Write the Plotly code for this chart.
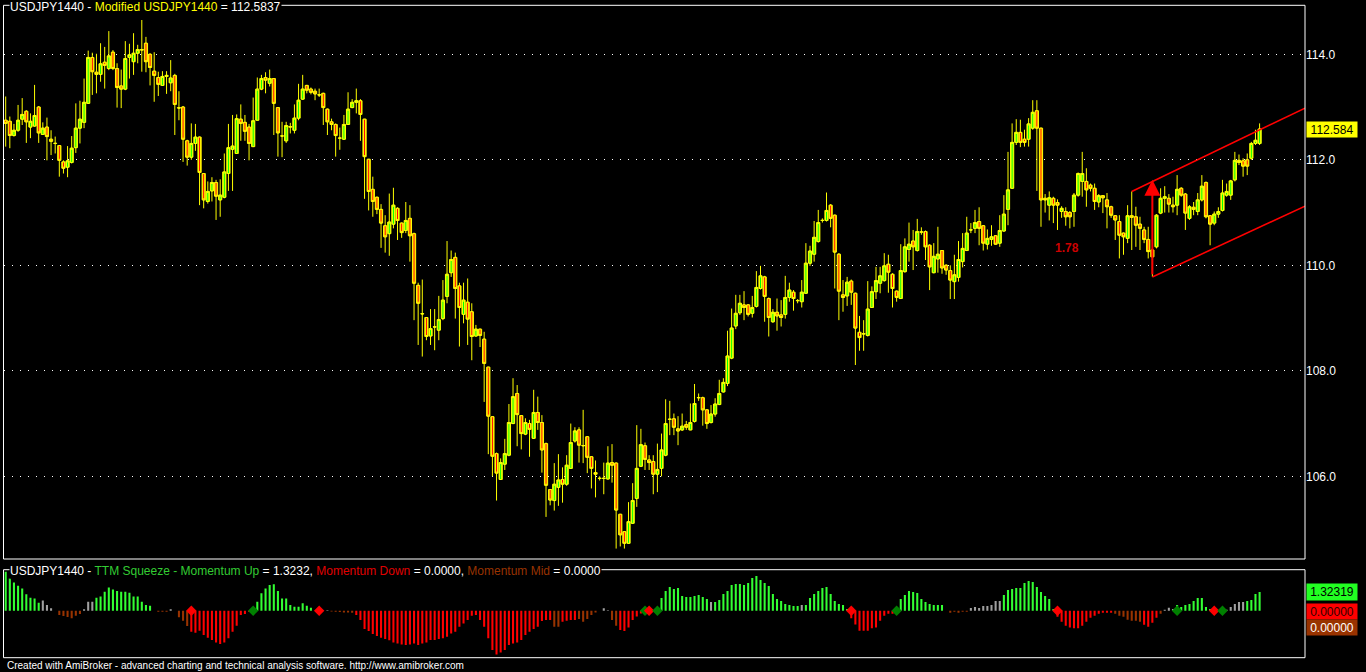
import plotly.graph_objects as go

W, H = 1366, 672
FONT = "Liberation Sans, Arial, sans-serif"

# ---------------- data ----------------
OPEN = [112.75, 112.73, 112.46, 112.56, 112.77, 112.92, 112.62, 112.64, 113.00, 112.48,
        112.62, 112.39, 112.31, 112.27, 111.96, 111.86, 111.95, 112.23, 112.60, 112.71,
        113.07, 113.94, 113.66, 113.62, 113.85, 113.73, 114.04, 113.73, 113.40, 113.34,
        113.94, 113.86, 114.02, 114.08, 114.21, 114.00, 113.68, 113.56, 113.41, 113.58,
        113.46, 113.60, 112.99, 113.00, 112.36, 112.05, 112.31, 112.43, 111.74, 111.21,
        111.41, 111.57, 111.24, 111.29, 111.74, 112.20, 112.12, 112.77, 112.71, 112.62,
        112.25, 112.75, 113.34, 113.56, 113.45, 113.54, 112.99, 112.45, 112.36, 112.62,
        112.56, 112.79, 113.15, 113.41, 113.34, 113.30, 113.23, 113.26, 112.96, 112.72,
        112.67, 112.41, 112.39, 112.67, 112.99, 113.09, 113.12, 112.77, 112.01, 111.44,
        111.29, 111.06, 110.75, 110.60, 110.78, 111.08, 110.80, 110.66, 110.89, 110.60,
        109.62, 109.08, 109.01, 108.66, 108.83, 108.77, 108.99, 109.41, 109.86, 110.15,
        109.61, 109.07, 109.30, 109.12, 108.66, 108.79, 108.60, 108.07, 107.13, 106.43,
        105.94, 106.23, 106.40, 107.00, 107.57, 107.15, 106.80, 107.00, 106.72, 107.21,
        107.02, 106.62, 105.75, 105.54, 105.79, 105.94, 105.85, 106.15, 106.67, 106.88,
        106.58, 106.75, 106.37, 106.07, 105.96, 105.96, 105.95, 106.26, 106.25, 105.28,
        104.95, 104.73, 105.11, 105.58, 106.19, 106.58, 106.31, 106.28, 106.04, 106.15,
        106.40, 107.08, 107.09, 106.90, 106.88, 106.98, 106.88, 107.04, 107.49, 107.49,
        107.26, 107.02, 107.18, 107.36, 107.60, 107.76, 108.24, 108.85, 109.10, 109.25,
        109.25, 109.09, 109.22, 109.56, 109.78, 109.37, 108.93, 109.11, 109.06, 109.07,
        109.39, 109.49, 109.33, 109.31, 109.47, 110.04, 110.21, 110.45, 110.85, 110.85,
        111.14, 110.95, 110.21, 109.44, 109.42, 109.70, 109.47, 108.73, 108.70, 108.67,
        109.20, 109.50, 109.66, 109.71, 110.02, 109.83, 109.51, 109.37, 109.88, 110.30,
        110.46, 110.28, 110.63, 110.64, 110.38, 109.86, 110.12, 110.28, 110.00, 109.90,
        109.69, 109.77, 110.07, 110.28, 110.67, 110.70, 110.83, 110.75, 110.40, 110.49,
        110.56, 110.42, 110.65, 111.06, 111.46, 112.33, 112.52, 112.39, 112.39, 112.60,
        112.93, 112.60, 111.27, 111.14, 111.27, 111.19, 111.02, 111.02, 111.00, 111.02,
        111.33, 111.59, 111.59, 111.52, 111.46, 111.20, 111.32, 111.24, 111.11, 110.94,
        110.83, 110.61, 110.51, 110.94, 110.92, 110.78, 110.67, 110.49, 110.29, 110.35,
        110.99, 111.27, 111.27, 111.14, 111.14, 111.46, 111.35, 110.89, 111.10, 111.02,
        111.24, 111.57, 110.94, 110.80, 110.97, 111.04, 111.33, 111.33, 111.62, 111.99,
        111.98, 112.00, 112.03, 112.31, 112.31]

HIGH = [113.20, 112.82, 112.68, 113.04, 113.17, 112.94, 112.88, 113.42, 113.02, 112.71,
        112.80, 112.56, 112.44, 112.28, 111.99, 112.26, 112.45, 113.07, 113.12, 113.54,
        114.07, 114.03, 114.01, 114.21, 114.14, 114.44, 114.08, 113.83, 113.71, 114.25,
        114.20, 114.40, 114.18, 114.65, 114.33, 114.02, 114.04, 113.67, 113.68, 113.68,
        113.89, 113.63, 113.30, 113.02, 112.38, 112.69, 112.68, 112.44, 111.74, 111.59,
        111.67, 111.62, 111.63, 112.12, 112.68, 112.85, 112.86, 113.05, 112.85, 112.68,
        113.18, 113.56, 113.61, 113.66, 113.71, 113.54, 113.00, 112.72, 112.72, 112.70,
        113.05, 113.44, 113.61, 113.42, 113.37, 113.35, 113.35, 113.27, 112.97, 112.78,
        112.69, 112.61, 112.85, 113.28, 113.15, 113.35, 113.15, 112.77, 112.01, 111.68,
        111.30, 111.16, 110.95, 111.36, 111.47, 111.10, 110.81, 111.20, 111.14, 110.62,
        109.67, 109.73, 109.02, 109.17, 109.17, 109.42, 109.72, 110.46, 110.28, 110.24,
        109.67, 109.67, 109.75, 109.28, 108.87, 108.79, 108.74, 108.07, 107.13, 106.45,
        106.34, 106.71, 107.37, 107.86, 107.73, 107.16, 107.10, 107.07, 107.64, 107.51,
        107.16, 106.64, 105.75, 106.25, 106.42, 106.17, 106.40, 107.00, 106.93, 106.93,
        107.26, 106.76, 106.38, 106.30, 106.00, 106.26, 106.57, 106.61, 106.26, 105.28,
        104.96, 105.51, 105.87, 106.97, 106.90, 106.64, 106.40, 106.40, 106.62, 106.81,
        107.46, 107.43, 107.19, 107.14, 107.19, 107.05, 107.38, 107.75, 107.57, 107.51,
        107.27, 107.35, 107.48, 107.83, 107.86, 108.76, 109.18, 109.44, 109.44, 109.51,
        109.26, 109.42, 109.89, 109.99, 109.80, 109.39, 109.17, 109.37, 109.34, 109.80,
        109.67, 109.53, 109.36, 109.72, 110.42, 110.37, 110.84, 111.05, 110.89, 111.38,
        111.16, 110.96, 110.23, 109.72, 109.78, 109.73, 109.48, 109.04, 108.96, 109.70,
        109.60, 109.97, 109.97, 110.23, 110.20, 109.85, 109.52, 110.40, 110.51, 110.81,
        110.67, 110.88, 110.72, 110.66, 110.40, 110.42, 110.73, 110.29, 110.02, 110.00,
        110.20, 110.46, 110.61, 110.92, 110.80, 111.05, 111.10, 110.76, 110.68, 110.76,
        110.57, 110.95, 111.33, 112.15, 112.69, 112.77, 112.76, 112.57, 112.79, 113.13,
        113.13, 112.60, 111.35, 111.40, 111.30, 111.25, 111.12, 111.10, 111.03, 111.37,
        111.76, 112.15, 111.84, 111.55, 111.55, 111.35, 111.33, 111.37, 111.13, 110.95,
        110.95, 110.62, 111.14, 111.40, 111.11, 110.92, 110.73, 110.73, 110.32, 110.97,
        111.46, 111.50, 111.35, 111.30, 111.71, 111.48, 111.37, 111.14, 111.20, 111.37,
        111.71, 111.59, 110.95, 111.02, 111.10, 111.62, 111.55, 111.62, 112.15, 112.10,
        112.03, 112.12, 112.34, 112.57, 112.69]

LOW = [112.25, 112.22, 112.44, 112.53, 112.66, 112.32, 112.41, 112.63, 112.32, 112.47,
       111.99, 112.09, 112.12, 111.68, 111.74, 111.67, 111.93, 112.13, 112.31, 112.60,
       113.06, 113.23, 113.26, 113.48, 113.35, 113.70, 113.70, 112.99, 112.98, 113.32,
       113.54, 113.61, 113.83, 113.67, 113.66, 113.41, 113.10, 113.21, 113.40, 113.25,
       113.30, 112.47, 112.75, 111.96, 111.89, 112.00, 112.17, 111.14, 111.08, 111.17,
       111.21, 110.86, 110.92, 111.27, 111.41, 111.41, 112.11, 112.36, 112.36, 111.99,
       112.25, 112.75, 113.32, 113.26, 113.39, 112.47, 112.06, 112.05, 112.32, 112.50,
       112.50, 112.75, 113.14, 113.26, 113.24, 113.13, 113.19, 112.66, 112.47, 112.56,
       112.06, 112.19, 112.38, 112.66, 112.98, 112.88, 112.36, 111.26, 111.04, 110.92,
       110.97, 110.33, 110.24, 110.18, 110.70, 110.48, 110.52, 110.61, 110.07, 108.96,
       108.49, 108.27, 108.58, 108.49, 108.39, 108.58, 108.96, 109.28, 109.78, 108.99,
       108.46, 108.90, 108.49, 108.20, 108.65, 108.45, 107.41, 106.42, 106.00, 105.54,
       105.93, 106.12, 106.38, 106.99, 106.57, 106.51, 106.78, 106.37, 106.71, 106.88,
       106.07, 105.23, 105.45, 105.35, 105.44, 105.50, 105.82, 106.14, 106.64, 106.26,
       106.25, 106.06, 105.77, 105.60, 105.92, 105.66, 105.94, 105.88, 104.63, 104.67,
       104.63, 104.73, 105.10, 105.42, 106.18, 106.12, 106.12, 105.66, 105.70, 106.00,
       106.38, 106.78, 106.78, 106.59, 106.86, 106.88, 106.88, 107.02, 107.43, 106.96,
       106.90, 107.00, 107.13, 107.35, 107.59, 107.71, 108.22, 108.79, 109.06, 108.96,
       109.03, 109.01, 109.20, 109.54, 108.93, 108.65, 108.91, 108.76, 108.84, 108.99,
       109.31, 109.14, 109.28, 109.20, 109.46, 109.99, 110.07, 110.43, 110.81, 110.83,
       110.72, 109.56, 108.96, 109.12, 109.23, 109.25, 108.11, 108.38, 108.38, 108.65,
       109.20, 109.36, 109.47, 109.69, 109.48, 109.20, 109.31, 109.36, 109.86, 110.07,
       109.91, 110.26, 110.58, 110.10, 109.53, 109.85, 109.86, 109.84, 109.82, 109.36,
       109.36, 109.69, 109.96, 110.27, 110.61, 110.61, 110.38, 110.28, 110.30, 110.37,
       110.39, 110.35, 110.64, 110.76, 111.45, 112.28, 112.24, 112.25, 112.25, 112.57,
       111.41, 110.73, 111.00, 110.85, 110.80, 110.67, 110.90, 110.75, 110.70, 110.73,
       111.30, 111.30, 111.11, 111.40, 111.05, 111.10, 110.99, 110.70, 110.90, 110.48,
       110.13, 110.20, 110.42, 110.29, 110.35, 110.29, 110.42, 110.13, 109.78, 110.32,
       110.97, 111.00, 111.00, 111.00, 110.95, 111.30, 110.67, 110.86, 110.95, 110.95,
       111.21, 110.89, 110.38, 110.76, 110.90, 111.02, 111.30, 111.24, 111.59, 111.90,
       111.68, 111.71, 112.00, 112.28, 112.28]

CLOSE = [112.69, 112.46, 112.56, 112.75, 112.86, 112.72, 112.73, 112.84, 112.51, 112.60,
         112.44, 112.35, 112.31, 111.99, 111.84, 111.98, 112.22, 112.60, 112.77, 113.09,
         113.94, 113.67, 113.62, 113.82, 113.79, 113.97, 113.73, 113.37, 113.34, 113.92,
         113.99, 114.02, 114.09, 114.09, 113.86, 113.75, 113.60, 113.43, 113.58, 113.60,
         113.55, 113.05, 112.98, 112.39, 112.05, 112.31, 112.43, 111.76, 111.24, 111.40,
         111.57, 111.31, 111.33, 111.77, 112.23, 112.26, 112.78, 112.69, 112.54, 112.31,
         112.74, 113.34, 113.54, 113.51, 113.54, 113.07, 112.51, 112.45, 112.65, 112.63,
         112.79, 113.13, 113.34, 113.32, 113.28, 113.25, 113.23, 112.99, 112.72, 112.67,
         112.46, 112.41, 112.67, 112.96, 113.09, 113.12, 112.86, 112.06, 111.40, 111.21,
         111.06, 110.80, 110.54, 110.82, 111.14, 110.85, 110.62, 110.85, 110.56, 109.66,
         109.28, 109.08, 108.65, 108.80, 108.83, 108.97, 109.34, 109.83, 110.11, 109.56,
         109.20, 109.34, 108.98, 108.65, 108.79, 108.67, 108.14, 107.14, 106.38, 106.06,
         106.26, 106.43, 107.02, 107.51, 107.17, 106.81, 107.02, 106.89, 107.21, 107.02,
         106.50, 105.83, 105.55, 105.85, 105.93, 105.85, 106.21, 106.64, 106.86, 106.59,
         106.58, 106.36, 106.15, 106.04, 105.96, 105.96, 106.25, 106.21, 105.36, 104.89,
         104.73, 105.14, 105.54, 106.15, 106.60, 106.32, 106.26, 106.04, 106.13, 106.50,
         107.00, 107.08, 106.93, 106.86, 106.95, 106.93, 107.02, 107.38, 107.49, 107.26,
         107.00, 107.18, 107.37, 107.57, 107.78, 108.28, 108.81, 109.09, 109.28, 109.20,
         109.07, 109.20, 109.58, 109.80, 109.41, 109.01, 109.11, 109.04, 109.01, 109.39,
         109.53, 109.37, 109.33, 109.49, 110.04, 110.27, 110.53, 110.81, 110.85, 111.04,
         110.89, 110.25, 109.51, 109.39, 109.68, 109.49, 108.81, 108.63, 108.70, 109.17,
         109.50, 109.71, 109.80, 109.99, 109.87, 109.56, 109.39, 109.90, 110.35, 110.40,
         110.35, 110.64, 110.63, 110.35, 109.97, 110.17, 110.21, 109.95, 109.91, 109.72,
         109.82, 110.11, 110.32, 110.61, 110.67, 110.81, 110.70, 110.42, 110.51, 110.54,
         110.40, 110.66, 110.97, 111.43, 112.33, 112.52, 112.33, 112.33, 112.68, 112.90,
         112.60, 111.24, 111.24, 111.28, 111.14, 111.14, 111.08, 110.92, 110.92, 111.33,
         111.74, 111.74, 111.43, 111.46, 111.21, 111.32, 111.28, 111.11, 110.95, 110.86,
         110.57, 110.54, 110.94, 110.91, 110.76, 110.70, 110.49, 110.26, 110.16, 110.95,
         111.27, 111.30, 111.16, 111.11, 111.44, 111.33, 110.99, 111.11, 111.06, 111.24,
         111.50, 110.92, 110.78, 110.97, 111.02, 111.37, 111.40, 111.60, 111.99, 111.95,
         111.88, 111.88, 112.31, 112.37, 112.5837]

# TTM squeeze momentum histogram
MOM = [2.77, 2.29, 2.00, 1.77, 1.58, 1.16, 0.92, 0.87, 0.57,
       0.73, 0.40, 0.17, 0.00,
       -0.30, -0.38, -0.45, -0.54, -0.35, -0.24,
       0.10, 0.64, 0.64,
       0.92, 1.00, 1.35, 1.65, 1.51, 1.39, 1.35, 1.35, 1.28, 1.00, 1.00, 0.64, 0.40, 0.35,
       0.00, -0.08, -0.08, -0.08,
       0.10,
       0.00, -0.47, -0.71, -1.09,
       -1.49, -1.56, -1.42, -1.73, -1.91, -2.08, -2.25, -2.36, -2.25, -1.96, -1.49, -1.06, -0.31, -0.24, -0.07,
       0.00, 0.64, 1.23, 1.58, 1.82, 1.87, 1.39, 0.87, 0.87, 0.40, 0.28, 0.28, 0.52, 0.35, 0.21, 0.00,
       0.00,
       0.00,
       0.03,
       -0.05, -0.08, -0.10, -0.12, -0.12, -0.15,
       -0.31, -0.66, -1.30, -1.44, -1.65, -1.80, -1.91, -2.00, -2.10, -2.25, -2.32, -2.39,
       -2.43, -2.39, -2.32, -2.43, -2.32, -2.25, -2.08, -2.08, -2.00, -1.96, -1.84, -1.61,
       -1.49, -1.13, -0.90, -0.66, -0.35, -0.31, -0.66, -1.13, -1.96, -2.79, -3.10, -2.96,
       -2.79, -2.43, -2.32, -2.25, -2.08, -1.73, -1.49, -1.30, -1.13, -0.73, -0.66, -0.66,
       -1.13, -1.13,
       -0.78, -0.71, -0.66, -0.66,
       -0.59, -0.78, -0.59, -0.31, -0.12,
       0.00, 0.17, 0.03,
       -0.66, -1.06,
       -1.37, -1.44, -1.20, -0.66, -0.42, -0.19,
       0.00,
       0.00,
       0.00, 0.00, 0.90, 1.39, 1.68, 1.54, 1.61, 1.04, 0.97, 0.97, 1.04, 1.11, 0.97, 0.83,
       0.61,
       0.61, 0.76, 1.18, 1.39, 1.82, 1.89, 1.89, 1.82, 1.96, 2.32, 2.46, 2.17, 1.96, 1.75,
       1.18, 0.83, 0.69, 0.47, 0.40, 0.33, 0.33,
       0.40,
       0.40, 0.90, 1.18, 1.39, 1.61, 1.68, 1.18, 0.69, 0.47, 0.40, 0.12,
       -0.54, -0.97, -1.42, -1.42, -1.42, -1.25, -1.20, -0.71, -0.35, -0.21, -0.21,
       0.00, 0.83, 1.11, 1.39, 1.32, 1.25, 0.83, 0.61, 0.47, 0.40, 0.40, 0.40,
       0.00, -0.14, -0.07, -0.14, -0.07, -0.07,
       0.19, 0.26, 0.19, 0.33, 0.33, 0.40, 0.69, 0.69,
       1.11, 1.47, 1.54, 1.61, 1.61, 1.96, 2.10, 2.03, 1.68, 1.32, 1.04, 0.83, 0.12,
       -0.43, -0.78, -1.06, -1.20, -1.25, -1.25, -1.06, -0.78, -0.50, -0.35, -0.21, -0.14, -0.14, -0.14,
       -0.21, -0.35, -0.43, -0.64, -0.71, -0.71, -0.78,
       -0.99, -1.13, -0.85, -0.50,
       -0.21,
       0.07, 0.21, 0.12,
       0.40, 0.26, 0.40, 0.47, 0.69, 0.90, 0.90, 0.26, 0.12,
       0.00,
       0.05, 0.00,
       0.07, 0.26, 0.47, 0.61, 0.61,
       0.69, 0.76, 1.18, 1.32319]

# per-bar state: g = up (green), a = grey, r = down (red), b = mid (brown)
MOM_STATE = ("g" * 9 + "a" * 4 + "b" * 6 + "a" * 3 + "g" * 14 + "b" * 4 + "a" + "b" * 4
             + "r" * 15 + "g" * 16 + "r" + "b" + "a" + "b" * 6 + "r" * 48 + "b" * 2 + "r" * 4
             + "b" * 5 + "a" * 3 + "b" * 2 + "r" * 6 + "g" + "r" + "g" * 14 + "a" + "g" * 21
             + "a" + "g" * 11 + "r" * 11 + "g" * 12 + "b" * 6 + "a" * 8 + "g" * 13 + "r" * 14
             + "b" * 7 + "r" * 4 + "b" + "a" * 3 + "g" * 9 + "r" + "g" * 2 + "a" * 5 + "g" * 4)

# squeeze dots on the zero line
DOT_IDX = [45, 60, 76, 155, 156, 158, 205, 216, 255, 284, 293, 295]
DOT_KIND = ["R", "G", "R", "G", "R", "G", "R", "G", "R", "G", "R", "G"]

MOM_DOWN_LAST = 0.0
MOM_MID_LAST = 0.0

PRICE_TICKS = [106, 108, 110, 112, 114]

# drawn channel and signal arrow (bar index, price)
CHANNEL_UPPER_X = [273, 315]
CHANNEL_UPPER_Y = [111.40, 112.98]
CHANNEL_LOWER_X = [278, 315]
CHANNEL_LOWER_Y = [109.78, 111.12]
SIGNAL_BAR = 278
SIGNAL_FROM = 109.80
SIGNAL_TO = 111.62
SIGNAL_TEXT = "1.78"
SIGNAL_TEXT_X = 257.3
SIGNAL_TEXT_Y = 110.32

# ---------------- layout geometry (pixels) ----------------
PANE_L, PANE_R = 3.5, 1305.0
UP_TOP, UP_BOT = 5.3, 559.0
LO_TOP, LO_BOT = 569.7, 657.7
X_FIRST_PX, X_LAST_PX = 5.7, 1259.6
P_REF, P_REF_PX, P_PX_PER_UNIT = 114.0, 54.3, 52.75
M_ZERO_PX, M_PX_PER_UNIT = 610.7, 14.1


def fx(p):
    return p / W


def fy(p):
    return 1 - p / H


n = len(CLOSE)
idx = list(range(n))
step = (X_LAST_PX - X_FIRST_PX) / (n - 1)
x_range = [(PANE_L - X_FIRST_PX) / step, (n - 1) + (PANE_R - X_LAST_PX) / step]
y_range = [P_REF - (UP_BOT - P_REF_PX) / P_PX_PER_UNIT, P_REF + (P_REF_PX - UP_TOP) / P_PX_PER_UNIT]
m_range = [-(LO_BOT - M_ZERO_PX) / M_PX_PER_UNIT, (M_ZERO_PX - LO_TOP) / M_PX_PER_UNIT]
min_body = 1.0 / P_PX_PER_UNIT * 0.2   # keeps doji bodies visible as a flat line

STATE_COLORS = {"g": "#33FF33", "a": "#A0A0A0", "r": "#FF0000", "b": "#993300"}
DOT_COLORS = {"R": "#FF0000", "G": "#008000"}

body_base = [min(o, c) for o, c in zip(OPEN, CLOSE)]
body_len = [max(abs(c - o), min_body) for o, c in zip(OPEN, CLOSE)]
body_col = ["#00FF00" if c >= o else "#FF0000" for o, c in zip(OPEN, CLOSE)]

fig = go.Figure()

# wicks (thin candlestick trace) + bodies drawn on top as bars
fig.add_trace(go.Candlestick(
    x=idx, open=OPEN, high=HIGH, low=LOW, close=CLOSE,
    increasing=dict(line=dict(color="#FFFF00", width=1), fillcolor="#00FF00"),
    decreasing=dict(line=dict(color="#FFFF00", width=1), fillcolor="#FF0000"),
    whiskerwidth=0, xaxis="x", yaxis="y", hoverinfo="skip", showlegend=False))

fig.add_trace(go.Bar(x=idx, y=body_len, base=body_base, width=0.78,
                     marker=dict(color=body_col, line=dict(color="#FFFF00", width=1)),
                     xaxis="x", yaxis="y", hoverinfo="skip", showlegend=False))

fig.add_trace(go.Scatter(x=CHANNEL_UPPER_X, y=CHANNEL_UPPER_Y, mode="lines",
                         line=dict(color="#FF0000", width=1.6), xaxis="x", yaxis="y",
                         hoverinfo="skip", showlegend=False))
fig.add_trace(go.Scatter(x=CHANNEL_LOWER_X, y=CHANNEL_LOWER_Y, mode="lines",
                         line=dict(color="#FF0000", width=1.6), xaxis="x", yaxis="y",
                         hoverinfo="skip", showlegend=False))

fig.add_trace(go.Bar(x=list(range(len(MOM))), y=MOM,
                     marker=dict(color=[STATE_COLORS[s] for s in MOM_STATE[:len(MOM)]], line=dict(width=0)),
                     width=0.5, xaxis="x2", yaxis="y2", hoverinfo="skip", showlegend=False))

fig.add_trace(go.Scatter(x=DOT_IDX, y=[0] * len(DOT_IDX), mode="markers",
                         marker=dict(symbol="diamond", size=8,
                                     color=[DOT_COLORS[k] for k in DOT_KIND], line=dict(width=0)),
                         xaxis="x2", yaxis="y2", hoverinfo="skip", showlegend=False))

axis_common = dict(showgrid=False, zeroline=False, showline=False, ticks="", fixedrange=True)

fig.update_layout(
    width=W, height=H,
    margin=dict(l=0, r=0, t=0, b=0),
    paper_bgcolor="black", plot_bgcolor="black",
    hovermode=False, showlegend=False, barmode="overlay",
    xaxis=dict(domain=[fx(PANE_L), fx(PANE_R)], range=x_range, anchor="y",
               showticklabels=False, rangeslider=dict(visible=False), **axis_common),
    yaxis=dict(domain=[fy(UP_BOT), fy(UP_TOP)], range=y_range, anchor="x", side="right",
               tickvals=PRICE_TICKS, ticktext=[f"{v:.1f}" for v in PRICE_TICKS],
               tickfont=dict(color="white", size=12, family=FONT),
               showgrid=True, gridcolor="white", gridwidth=1, griddash="1px,7px",
               zeroline=False, showline=False, ticks="", fixedrange=True),
    xaxis2=dict(domain=[fx(PANE_L), fx(PANE_R)], range=x_range, anchor="y2",
                showticklabels=False, **axis_common),
    yaxis2=dict(domain=[fy(LO_BOT), fy(LO_TOP)], range=m_range, anchor="x2", side="right",
                showticklabels=False, **axis_common),
)

# pane borders
for top, bot in ((UP_TOP, UP_BOT), (LO_TOP, LO_BOT)):
    fig.add_shape(type="rect", xref="paper", yref="paper",
                  x0=fx(PANE_L), x1=fx(PANE_R), y0=fy(bot), y1=fy(top),
                  line=dict(color="white", width=1), fillcolor="rgba(0,0,0,0)", layer="above")

# pane titles
fig.add_annotation(xref="paper", yref="paper", x=fx(9), y=fy(UP_TOP + 1.2),
                   xanchor="left", yanchor="middle", showarrow=False, bgcolor="black", borderpad=0,
                   font=dict(color="white", size=12, family=FONT),
                   text=f"USDJPY1440 - <span style='color:#FFFF00'>Modified USDJPY1440</span> = {CLOSE[-1]:.4f}")
fig.add_annotation(xref="paper", yref="paper", x=fx(9), y=fy(LO_TOP + 1.5),
                   xanchor="left", yanchor="middle", showarrow=False, bgcolor="black", borderpad=0,
                   font=dict(color="white", size=12, family=FONT),
                   text=(f"USDJPY1440 - <span style='color:#33CC33'>TTM Squeeze - Momentum Up</span> = {MOM[-1]:.4f}, "
                         f"<span style='color:#E00000'>Momentum Down</span> = {MOM_DOWN_LAST:.4f}, "
                         f"<span style='color:#993300'>Momentum Mid</span> = {MOM_MID_LAST:.4f}"))

# right-side value labels
fig.add_annotation(xref="paper", yref="y", x=fx(PANE_R + 1), y=CLOSE[-1], xanchor="left", yanchor="middle",
                   showarrow=False, bgcolor="#FFFF00", width=48, height=13, borderpad=1,
                   font=dict(color="black", size=12, family=FONT), text=f"{CLOSE[-1]:.3f}")
fig.add_annotation(xref="paper", yref="paper", x=fx(PANE_R + 1), y=fy(592), xanchor="left", yanchor="middle",
                   showarrow=False, bgcolor="#22FF22", width=48, height=14, borderpad=1,
                   font=dict(color="black", size=12, family=FONT), text=f"{MOM[-1]:.5f}")
fig.add_annotation(xref="paper", yref="paper", x=fx(PANE_R + 1), y=fy(611.5), xanchor="left", yanchor="middle",
                   showarrow=False, bgcolor="#FF0000", width=48, height=13, borderpad=1,
                   font=dict(color="#300000", size=12, family=FONT), text=f"{MOM_DOWN_LAST:.5f}")
fig.add_annotation(xref="paper", yref="paper", x=fx(PANE_R + 1), y=fy(627.5), xanchor="left", yanchor="middle",
                   showarrow=False, bgcolor="#993300", width=48, height=13, borderpad=1,
                   font=dict(color="white", size=12, family=FONT), text=f"{MOM_MID_LAST:.5f}")

# signal arrow and label
fig.add_annotation(x=SIGNAL_BAR, y=SIGNAL_TO, ax=SIGNAL_BAR, ay=SIGNAL_FROM, xref="x", yref="y",
                   axref="x", ayref="y", showarrow=True, text="", arrowhead=2, arrowsize=1.6,
                   arrowwidth=2, arrowcolor="#FF0000")
fig.add_annotation(x=SIGNAL_TEXT_X, y=SIGNAL_TEXT_Y, xref="x", yref="y", showarrow=False,
                   text=f"<b>{SIGNAL_TEXT}</b>", font=dict(color="#CC0000", size=12, family=FONT))

# footer
fig.add_annotation(xref="paper", yref="paper", x=fx(4.5), y=fy(658), xanchor="left", yanchor="top",
                   showarrow=False, font=dict(color="white", size=10, family=FONT),
                   text="Created with AmiBroker - advanced charting and technical analysis software. http://www.amibroker.com")

fig.write_html("out.html", config={"displayModeBar": False, "staticPlot": True},
               post_script="document.body.style.margin='0px';document.body.style.overflow='hidden';")
